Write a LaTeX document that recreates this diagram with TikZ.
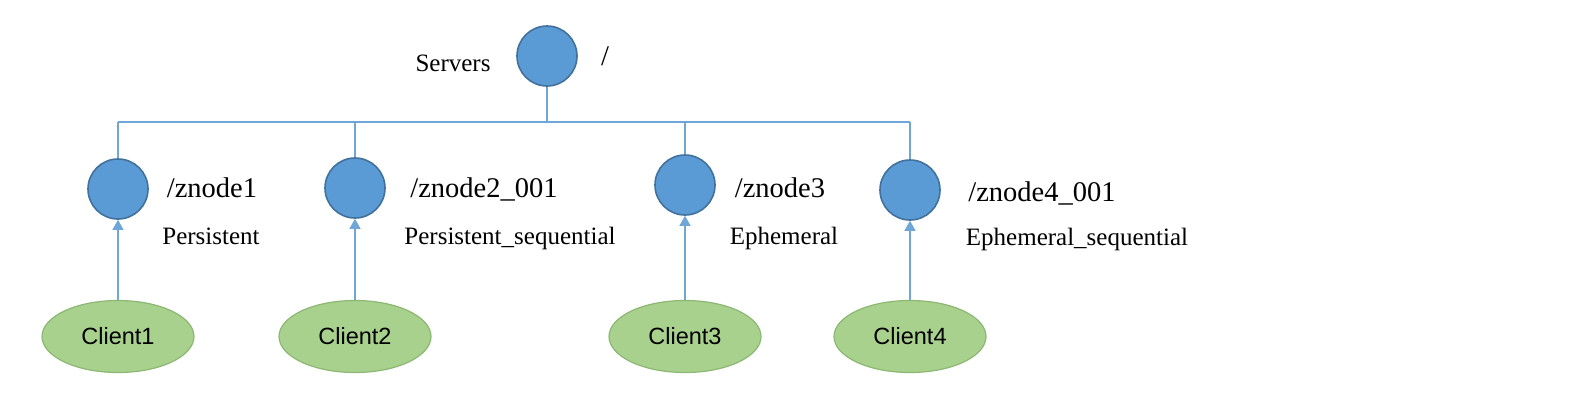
\documentclass[tikz,border=0pt]{standalone}
\usepackage{fontspec}
\setmainfont{Liberation Serif}
\newfontfamily\arialf{Liberation Sans}
\usetikzlibrary{shapes.geometric,arrows.meta}
\definecolor{cfill}{HTML}{5B9BD5}
\definecolor{cborder}{HTML}{41719C}
\definecolor{lfill}{HTML}{A9D18E}
\definecolor{lborder}{HTML}{8CB873}
\definecolor{lineblue}{HTML}{6FA6D8}
\begin{document}
\begin{tikzpicture}[x=1pt,y=-1pt,
  zn/.style={circle,draw=cborder,fill=cfill,line width=1.6pt,minimum size=60pt,inner sep=0pt},
  cl/.style={ellipse,draw=lborder,fill=lfill,line width=1.2pt,minimum width=152pt,minimum height=72pt,inner sep=0pt,font=\arialf\fontsize{23.5}{28}\selectfont},
  big/.style={font=\fontsize{28.5}{32}\selectfont,inner sep=0pt},
  small/.style={font=\fontsize{25}{29}\selectfont,inner sep=0pt},
  conn/.style={draw=lineblue,line width=1.2pt},
  arr/.style={conn,-{Triangle[width=11pt,length=10pt,fill=lineblue]}}]
\useasboundingbox (0,0) rectangle (1596,400);
\fill[white] (0,0) rectangle (1596,400);
% root
\node[zn] (root) at (547,56) {};
\node[small] (servers) at (453,63) {Servers};
\node[big] (slash) at (605,56) {/};
% bus
\coordinate (bus) at (547,122);
\coordinate (b1) at (118,122);
\coordinate (b2) at (355,122);
\coordinate (b3) at (685,122);
\coordinate (b4) at (910,122);
% children
\node[zn] (z1) at (118,189) {};
\node[zn] (z2) at (355,188) {};
\node[zn] (z3) at (685,185) {};
\node[zn] (z4) at (910,190) {};
\draw[conn] (root.south) -- (bus);
\draw[conn] (b1) -- (b4);
\draw[conn] (b1) -- (z1.north);
\draw[conn] (b2) -- (z2.north);
\draw[conn] (b3) -- (z3.north);
\draw[conn] (b4) -- (z4.north);
% labels
\node[big] (l1) at (212,188) {/znode1};
\node[big] (l2) at (484,189) {/znode2\_001};
\node[big] (l3) at (780,188) {/znode3};
\node[big] (l4) at (1042,193) {/znode4\_001};
\node[small] (t1) at (211,236) {Persistent};
\node[small] (t2) at (510,238) {Persistent\_sequential};
\node[small] (t3) at (784,238) {Ephemeral};
\node[small] (t4) at (1077,239) {Ephemeral\_sequential};
% clients
\node[cl] (c1) at (118,336.5) {Client1};
\node[cl] (c2) at (355,336.5) {Client2};
\node[cl] (c3) at (685,336.5) {Client3};
\node[cl] (c4) at (910,336.5) {Client4};
\draw[arr] (c1.north) -- (z1.south);
\draw[arr] (c2.north) -- (z2.south);
\draw[arr] (c3.north) -- (z3.south);
\draw[arr] (c4.north) -- (z4.south);
\end{tikzpicture}
\end{document}
